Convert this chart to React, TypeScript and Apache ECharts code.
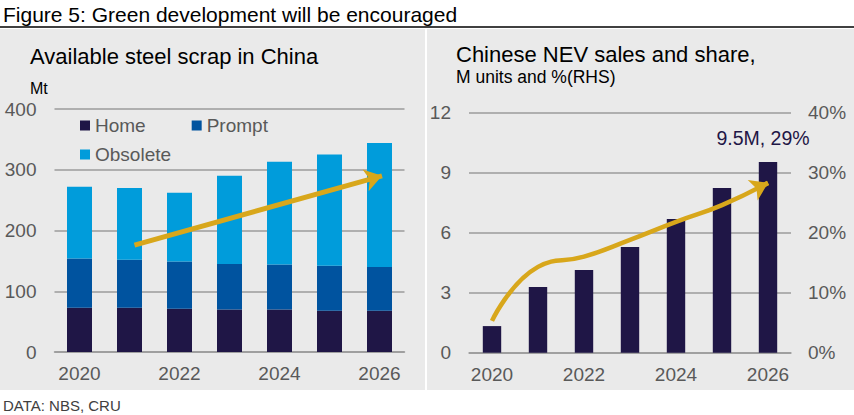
import React, { useEffect, useRef } from "react";
import * as echarts from "echarts";

const years = ["2020", "2021", "2022", "2023", "2024", "2025", "2026"];
const homeScrap = [73, 73, 71, 70, 70, 68, 68];
const promptScrap = [81, 79, 78, 75, 74, 74, 72];
const obsoleteScrap = [118, 118, 113, 145, 169, 183, 204];
const scrapTicks = [0, 100, 200, 300, 400];

const nevSales = [1.33, 3.28, 4.13, 5.28, 6.68, 8.23, 9.53];
const nevShare = [5.3, 14.3, 16.0, 18.8, 21.8, 24.6, 28.3];
const scrapTrend = [
  [1.1, 176],
  [6.05, 290],
];

const FONT = "'Liberation Sans', Arial, Helvetica, sans-serif";
const GOLD = "#D8A71B";
const HOME = "#1F1646";
const PROMPT = "#00539F";
const OBSOLETE = "#009CDB";
const GRID = "#9B9B9B";
const TICK = "#595959";
const PANEL = "#EAEAEA";

export default function App() {
  const ref = useRef<HTMLDivElement>(null);
  useEffect(() => {
    document.body.style.margin = "0";
    const chart = echarts.init(ref.current!, undefined, { renderer: "svg" });
    const axisLabel = { color: TICK, fontSize: 19, fontFamily: FONT };
    const splitLine = { lineStyle: { color: GRID, width: 1.5 } };
    const noLine = { show: false, onZero: false };
    const last = nevShare.length - 1;
    const arrowMark = (from: number[], to: number[], width: number) => ({
      silent: true,
      symbol: ["none", "arrow"],
      symbolSize: 17,
      label: { show: false },
      emphasis: { disabled: true },
      lineStyle: { color: GOLD, width, type: "solid", opacity: 1 },
      itemStyle: { color: GOLD },
      data: [[{ coord: from }, { coord: to }]],
    });
    chart.setOption({
      animation: false,
      backgroundColor: "#FFFFFF",
      textStyle: { fontFamily: FONT },
      graphic: [
        { type: "rect", z: -10, shape: { x: 0, y: 29, width: 425, height: 361 }, style: { fill: PANEL } },
        { type: "rect", z: -10, shape: { x: 427, y: 29, width: 427, height: 361 }, style: { fill: PANEL } },
        { type: "line", shape: { x1: 0, y1: 27, x2: 854, y2: 27 }, style: { stroke: "#000", lineWidth: 1.5 } },
        { type: "text", style: { text: "Figure 5: Green development will be encouraged", x: 3, y: 14.5, font: `21px ${FONT}`, fill: "#000", textVerticalAlign: "middle", verticalAlign: "middle" } },
        { type: "text", style: { text: "Available steel scrap in China", x: 30, y: 56, font: `22px ${FONT}`, fill: "#000", textVerticalAlign: "middle", verticalAlign: "middle" } },
        { type: "text", style: { text: "Mt", x: 30, y: 88, font: `16px ${FONT}`, fill: "#000", textVerticalAlign: "middle", verticalAlign: "middle" } },
        { type: "text", style: { text: "Chinese NEV sales and share,", x: 456, y: 54, font: `22px ${FONT}`, fill: "#000", textVerticalAlign: "middle", verticalAlign: "middle" } },
        { type: "text", style: { text: "M units and %(RHS)", x: 456, y: 77, font: `17.5px ${FONT}`, fill: "#000", textVerticalAlign: "middle", verticalAlign: "middle" } },
        { type: "text", style: { text: "DATA: NBS, CRU", x: 3, y: 405.5, font: `15px ${FONT}`, fill: "#404040", textVerticalAlign: "middle", verticalAlign: "middle" } },
      ],
      legend: [
        {
          data: ["Home", "Prompt"],
          left: 75, top: 111, itemWidth: 10, itemHeight: 10, itemGap: 46, icon: "rect",
          textStyle: { color: TICK, fontSize: 19, fontFamily: FONT },
        },
        {
          data: ["Obsolete"],
          left: 75, top: 140, itemWidth: 10, itemHeight: 10, icon: "rect",
          textStyle: { color: TICK, fontSize: 19, fontFamily: FONT },
        },
      ],
      grid: [
        { left: 54.5, top: 109, width: 350, height: 243 },
        { left: 469, top: 112.7, width: 322, height: 240 },
      ],
      xAxis: [
        {
          type: "category", gridIndex: 0, data: years,
          axisLine: { lineStyle: { color: GRID, width: 1.5 } }, axisTick: { show: false },
          axisLabel: { ...axisLabel, interval: 1, margin: 12 },
        },
        { type: "value", gridIndex: 0, min: -0.5, max: 6.5, show: false, axisLine: noLine, splitLine: { show: false } },
        {
          type: "category", gridIndex: 1, data: years,
          axisLine: { lineStyle: { color: GRID, width: 1.5 } }, axisTick: { show: false },
          axisLabel: { ...axisLabel, interval: 1, margin: 12 },
        },
        { type: "value", gridIndex: 1, min: -0.5, max: 6.5, show: false, axisLine: noLine, splitLine: { show: false } },
      ],
      yAxis: [
        {
          type: "value", gridIndex: 0, min: scrapTicks[0], max: scrapTicks[scrapTicks.length - 1], interval: 100,
          axisLine: noLine, axisTick: { show: false },
          axisLabel: { ...axisLabel, margin: 18 }, splitLine,
        },
        {
          type: "value", gridIndex: 1, min: 0, max: 12, interval: 3,
          axisLine: noLine, axisTick: { show: false },
          axisLabel: { ...axisLabel, margin: 18 }, splitLine,
        },
        {
          type: "value", gridIndex: 1, min: 0, max: 40, interval: 10, position: "right",
          axisLine: noLine, axisTick: { show: false },
          axisLabel: { ...axisLabel, margin: 17, formatter: "{value}%" }, splitLine: { show: false },
        },
      ],
      series: [
        { name: "Home", type: "bar", stack: "s", xAxisIndex: 0, yAxisIndex: 0, barWidth: "50%", data: homeScrap, itemStyle: { color: HOME } },
        { name: "Prompt", type: "bar", stack: "s", xAxisIndex: 0, yAxisIndex: 0, barWidth: "50%", data: promptScrap, itemStyle: { color: PROMPT } },
        { name: "Obsolete", type: "bar", stack: "s", xAxisIndex: 0, yAxisIndex: 0, barWidth: "50%", data: obsoleteScrap, itemStyle: { color: OBSOLETE } },
        {
          type: "line", xAxisIndex: 1, yAxisIndex: 0, data: scrapTrend, symbol: "none",
          lineStyle: { opacity: 0 }, silent: true, z: 5,
          markLine: arrowMark(scrapTrend[0], scrapTrend[1], 5),
        },
        {
          name: "NEV sales", type: "bar", xAxisIndex: 2, yAxisIndex: 1, barWidth: "40%",
          itemStyle: { color: HOME },
          data: nevSales.map((v, i) =>
            i === last
              ? { value: v, label: { show: true, position: "top", distance: 14, formatter: "9.5M, 29%", color: HOME, fontSize: 19.5, fontFamily: FONT, offset: [-5, 0] } }
              : v
          ),
        },
        {
          name: "NEV share", type: "line", xAxisIndex: 3, yAxisIndex: 2, smooth: 0.5, symbol: "none", z: 5,
          lineStyle: { color: GOLD, width: 4.5 },
          data: nevShare.map((v, i) => [i, v]),
          markLine: arrowMark(
            [last - 0.25, nevShare[last] - 0.25 * (nevShare[last] - nevShare[last - 1])],
            [last, nevShare[last]],
            4.5
          ),
        },
      ],
    });
    return () => chart.dispose();
  }, []);
  return <div ref={ref} style={{ width: 854, height: 415 }} />;
}
